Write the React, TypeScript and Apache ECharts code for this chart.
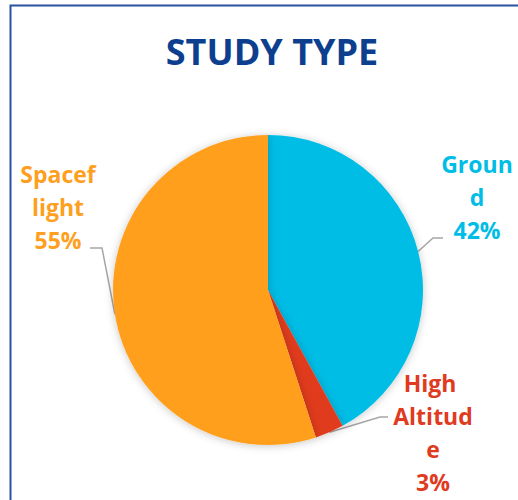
import React, { useEffect, useRef } from "react";
import * as echarts from "echarts";

const titleText = "STUDY TYPE";
const categories = ["Ground", "High Altitude", "Spaceflight"];
const values = [42, 3, 55];
const colors = ["#00BDE6", "#E03A1F", "#FF9F1F"];

// label placement (px) for each slice: text centre, leader corner, leader end
const labelPos = [
  { x: 477, y: 197, wrap: 78, corner: [433, 238], end: [443, 238] },
  { x: 433, y: 432, wrap: 84, corner: [380, 417], end: [388, 417] },
  { x: 58, y: 207, wrap: 78, corner: [102, 248], end: [90, 248] },
];

export default function App() {
  const ref = useRef<HTMLDivElement>(null);
  useEffect(() => {
    if (!ref.current) return;
    const chart = echarts.init(ref.current, undefined, { renderer: "svg" });
    const font = "'Open Sans', 'Noto Sans', sans-serif";
    chart.setOption({
      animation: false,
      backgroundColor: "#ffffff",
      title: {
        text: titleText,
        left: 267,
        top: 28,
        textAlign: "center",
        textStyle: {
          color: "#0E3F8F",
          fontSize: 36,
          fontWeight: "bold",
          fontFamily: font,
        },
      },
      graphic: [
        {
          type: "rect",
          shape: { x: 10.5, y: 5.5, width: 700, height: 700 },
          style: { fill: "none", stroke: "#2A52A0", lineWidth: 2 },
          silent: true,
        },
      ],
      series: [
        {
          type: "pie",
          center: [268, 290],
          radius: 155,
          startAngle: 90,
          clockwise: true,
          avoidLabelOverlap: false,
          itemStyle: {
            shadowBlur: 8,
            shadowColor: "rgba(0,0,0,0.22)",
            shadowOffsetY: 1,
          },
          data: categories.map((name, i) => ({
            name,
            value: values[i],
            itemStyle: { color: colors[i] },
            label: {
              color: colors[i],
              width: labelPos[i].wrap,
            },
          })),
          label: {
            show: true,
            position: "outside",
            formatter: (p: any) => `${p.name}\n${Math.round(p.percent)}%`,
            fontSize: 23,
            fontWeight: "bold",
            fontFamily: font,
            lineHeight: 33,
            overflow: "break",
            align: "center",
          },
          labelLine: {
            show: true,
            lineStyle: { color: "#A6A6A6", width: 1.5 },
          },
          labelLayout: (params: any) => {
            const lp = labelPos[params.dataIndex];
            const start = params.labelLinePoints
              ? params.labelLinePoints[0]
              : lp.corner;
            return {
              x: lp.x,
              y: lp.y,
              align: "center",
              verticalAlign: "middle",
              labelLinePoints: [start, lp.corner, lp.end],
            };
          },
        },
      ],
    });
    return () => chart.dispose();
  }, []);
  return (
    <div
      ref={ref}
      style={{ position: "fixed", left: 0, top: 0, width: 518, height: 500 }}
    />
  );
}
